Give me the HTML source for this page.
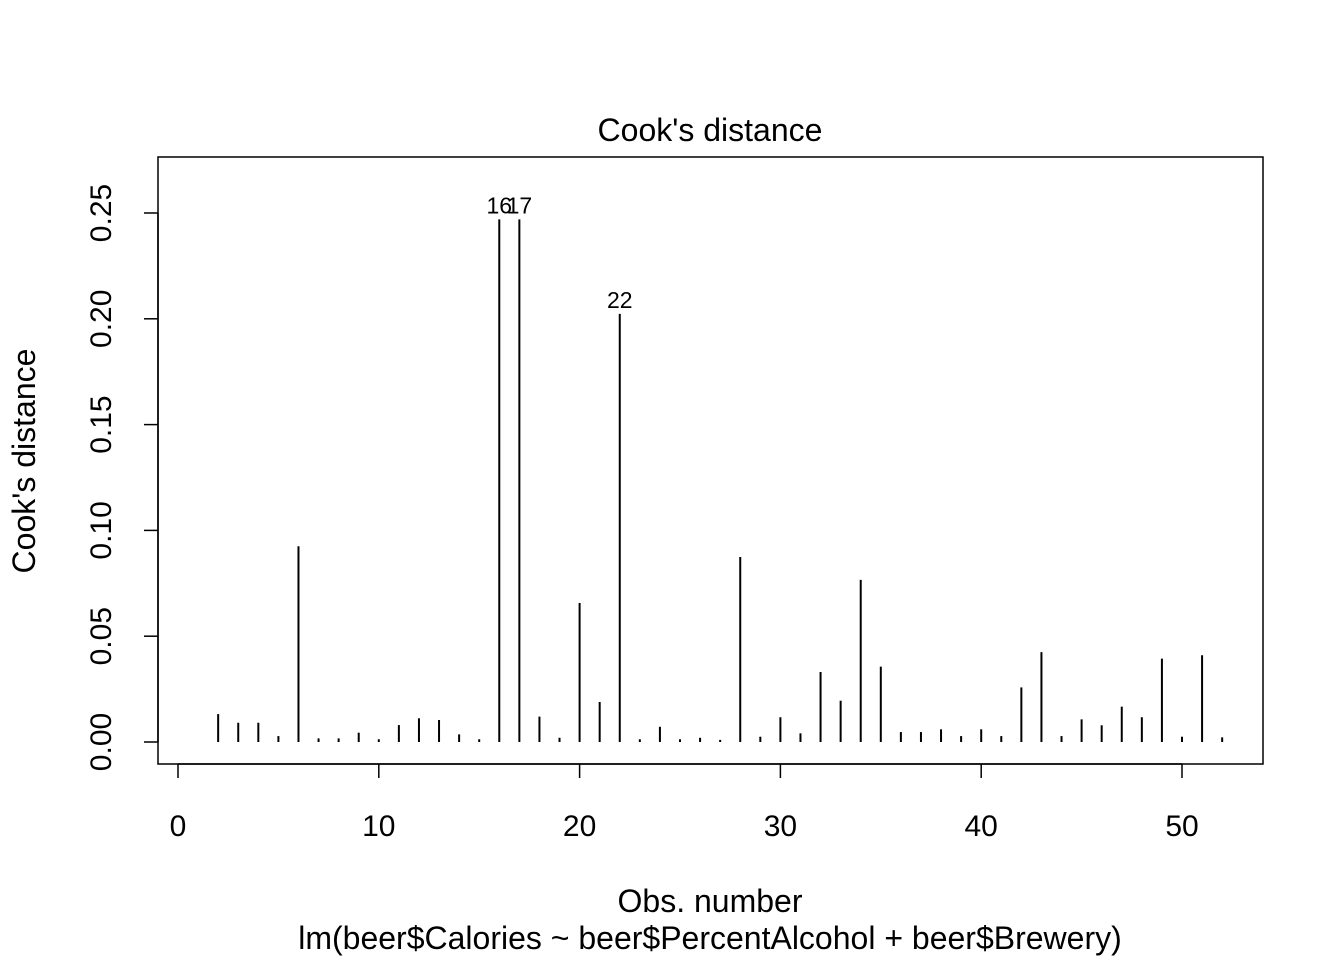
<!DOCTYPE html>
<html><head><meta charset="utf-8"><style>
html,body{margin:0;padding:0;background:#fff}
svg{display:block;font-family:"Liberation Sans",Arial,sans-serif}
</style></head><body>
<svg id="chart" width="1344" height="960">
<rect x="158" y="157" width="1105" height="607" fill="none" stroke="#000" stroke-width="1.5"/>
<text x="710" y="141" font-size="32" text-anchor="middle">Cook's distance</text>
<text x="710" y="912" font-size="32" text-anchor="middle">Obs. number</text>
<text x="710" y="949" font-size="32" text-anchor="middle">lm(beer$Calories ~ beer$PercentAlcohol + beer$Brewery)</text>
<text transform="translate(35,461) rotate(-90)" font-size="32" text-anchor="middle">Cook's distance</text>
<g id="xaxis"></g><g id="yaxis"></g><g id="bars"></g><g id="labels"></g>
</svg>
<script>
const obs = [];
const cooks = [0,0.0132,0.0091,0.0091,0.0028,0.0925,0.0017,0.0017,0.0044,0.0013,0.008,0.0112,0.0104,0.0036,0.0013,0.247,0.247,0.012,0.002,0.0657,0.0189,0.2023,0.0013,0.0072,0.0013,0.002,0.001,0.0874,0.0025,0.0117,0.0041,0.0331,0.0195,0.0766,0.0356,0.0047,0.0047,0.006,0.0028,0.006,0.0028,0.0258,0.0425,0.0028,0.0107,0.0079,0.0167,0.0117,0.0394,0.0025,0.041,0.0022];
for (let i=0;i<cooks.length;i++) obs.push(i+1);
const xTicks = [0,10,20,30,40,50];
const yTicks = [0,0.05,0.10,0.15,0.20,0.25];
const yTickLabels = ["0.00","0.05","0.10","0.15","0.20","0.25"];
const labeled = [16,17,22];
const NS="http://www.w3.org/2000/svg";
const xs = v => 178 + v*(1182-178)/50;
const ys = v => 742 - v*(742-213)/0.25;
function mk(tag, attrs, parent){const e=document.createElementNS(NS,tag);for(const k in attrs)e.setAttribute(k,attrs[k]);parent.appendChild(e);return e;}
const xa=document.getElementById('xaxis'), ya=document.getElementById('yaxis'), bg=document.getElementById('bars'), lg=document.getElementById('labels');
let l=mk('line',{x1:xs(0),x2:xs(50),y1:764,y2:764,stroke:'#000','stroke-width':1.5},xa);


xTicks.forEach(t=>{
 const tk=mk('line',{x1:xs(t),x2:xs(t),y1:764,y2:778,stroke:'#000','stroke-width':1.5},xa);
 
 
 const tx=mk('text',{x:xs(t),y:836,'font-size':30,'text-anchor':'middle'},xa);
 tx.textContent=t;
 
 
});
l=mk('line',{x1:158,x2:158,y1:ys(0),y2:ys(0.25),stroke:'#000','stroke-width':1.5},ya);


yTicks.forEach((t,i)=>{
 const tk=mk('line',{x1:144,x2:158,y1:ys(t),y2:ys(t),stroke:'#000','stroke-width':1.5},ya);
 
 
 const tx=mk('text',{transform:`translate(111,${ys(t)}) rotate(-90)`,'font-size':30,'text-anchor':'middle'},ya);
 tx.textContent=yTickLabels[i];
 
 
});
obs.forEach((o,i)=>{
 const b=mk('line',{x1:xs(o),x2:xs(o),y1:ys(0),y2:ys(cooks[i]),stroke:'#000','stroke-width':2},bg);
 
 
});
labeled.forEach(o=>{
 const tx=mk('text',{x:xs(o),y:ys(cooks[o-1])-6,'font-size':23,'text-anchor':'middle'},lg);
 tx.textContent=o;
 
 
});
</script>
</body></html>
